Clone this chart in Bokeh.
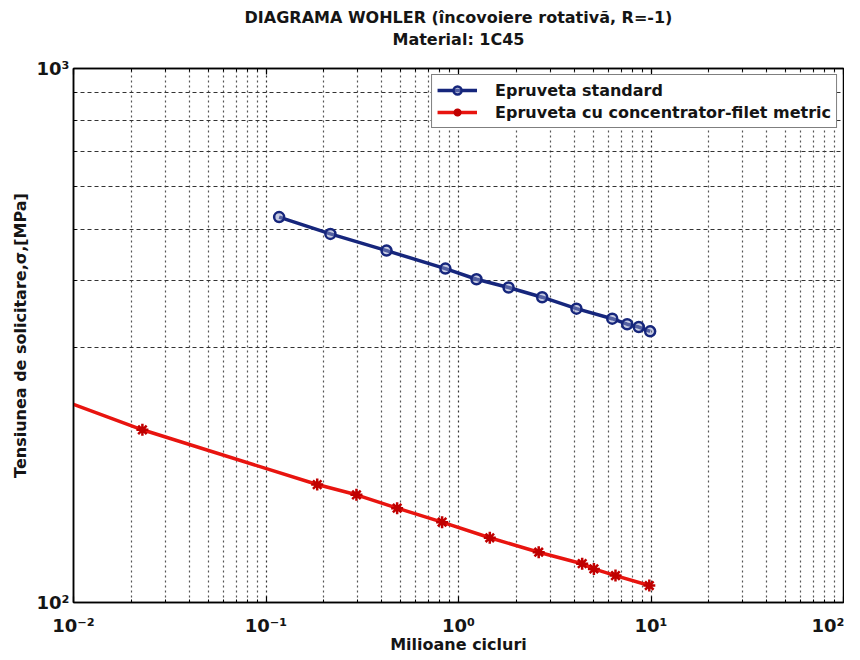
from bokeh.plotting import figure
from bokeh.models import (FixedTicker, CustomJSTickFormatter, Title, Legend, LegendItem,
                          ColumnDataSource, Range1d, LogAxis)
from bokeh.embed import file_html
from bokeh.resources import INLINE

# ---- data ----
std_cycles = [0.117, 0.216, 0.423, 0.855, 1.24, 1.82, 2.72, 4.10, 6.29, 7.52, 8.64, 9.9]
std_stress = [527, 490, 456, 422, 403, 389, 373, 355, 340, 332, 328, 322]

conc_cycles = [0.01, 0.0228, 0.1845, 0.295, 0.48, 0.822, 1.454, 2.61, 4.39, 5.05, 6.54, 9.8]
conc_stress = [235, 210.6, 166.3, 159.1, 150.2, 141.4, 132.2, 124.2, 118.2, 115.6, 112.3, 107.6]

x_ticks = [0.01, 0.1, 1, 10, 100]
x_tick_labels = ["10\u207b\u00b2", "10\u207b\u00b9", "10\u2070", "10\u00b9", "10\u00b2"]
x_minor = [m * d for d in [0.01, 0.1, 1, 10] for m in [2, 3, 4, 5, 6, 7, 8, 9]]
y_ticks = [100, 1000]
y_tick_labels = ["10\u00b2", "10\u00b3"]
y_minor = [300, 400, 500, 600, 700, 800, 900]

title_1 = "DIAGRAMA WOHLER (\u00eencovoiere rotativ\u00e3, R=-1)"
title_2 = "Material: 1C45"
x_label = "Milioane cicluri"
y_label = "Tensiunea de solicitare,\u03c3,[MPa]"
leg_std = "Epruveta standard"
leg_conc = "Epruveta cu concentrator-filet metric"

FONT = "DejaVu Sans"
BLUE = "#16267c"
RED = "#e8140f"
TXT = "#151515"

p = figure(width=844, height=656, x_axis_type="log", y_axis_type="log",
           x_range=Range1d(0.01, 100), y_range=Range1d(100, 1000),
           output_backend="svg", toolbar_location=None,
           min_border_left=73, min_border_right=1, min_border_top=68, min_border_bottom=50)

fmt_code = """
let best = 0, bd = 1e9;
for (let i = 0; i < vals.length; i++) {
  const d = Math.abs(Math.log10(tick) - Math.log10(vals[i]));
  if (d < bd) { bd = d; best = i; }
}
return labs[best];
"""
xax = p.below[0]
yax = p.left[0]
x_ticker = FixedTicker(ticks=x_ticks, minor_ticks=x_minor)
xax.ticker = x_ticker
yax.ticker = FixedTicker(ticks=y_ticks, minor_ticks=y_minor)
xax.formatter = CustomJSTickFormatter(args=dict(vals=x_ticks, labs=x_tick_labels), code=fmt_code)
yax.formatter = CustomJSTickFormatter(args=dict(vals=y_ticks, labs=y_tick_labels), code=fmt_code)

for ax in (xax, yax):
    ax.major_label_text_font = FONT
    ax.major_label_text_font_size = "18px"
    ax.major_label_text_font_style = "bold"
    ax.major_label_text_color = TXT
    ax.axis_label_text_font = FONT
    ax.axis_label_text_font_size = "16px"
    ax.axis_label_text_font_style = "bold"
    ax.axis_label_text_color = TXT
    ax.major_tick_in = 6
    ax.major_tick_out = 0
    ax.minor_tick_in = 3
    ax.minor_tick_out = 0
    ax.axis_line_width = 1.5
    ax.major_tick_line_width = 1.2

xax.axis_label = x_label
yax.axis_label = y_label
xax.major_label_standoff = 12
yax.major_label_standoff = 4
xax.axis_label_standoff = -4
yax.axis_label_standoff = 4

# top box axis: inward ticks, no tick labels; carries the second title line
top_axis = LogAxis(ticker=x_ticker, formatter=CustomJSTickFormatter(code="return ''"),
                   major_tick_in=6, major_tick_out=0, minor_tick_in=3, minor_tick_out=0,
                   axis_line_width=1.5, major_tick_line_width=1.2,
                   axis_label=title_2, axis_label_standoff=20,
                   axis_label_text_font=FONT, axis_label_text_font_size="16px",
                   axis_label_text_font_style="bold", axis_label_text_color=TXT)
p.add_layout(top_axis, "above")

p.add_layout(Title(text=title_1, align="center", text_font=FONT, text_font_size="16px",
                   text_font_style="bold", text_color=TXT, standoff=0), "above")

p.outline_line_color = "black"
p.outline_line_width = 1.5

p.xgrid.grid_line_color = "#333333"
p.xgrid.grid_line_dash = "2 3"
p.xgrid.grid_line_width = 1.2
p.xgrid.minor_grid_line_color = "#555555"
p.xgrid.minor_grid_line_dash = "2 3"
p.xgrid.minor_grid_line_width = 1.2
p.ygrid.grid_line_color = None
p.ygrid.minor_grid_line_color = "#333333"
p.ygrid.minor_grid_line_dash = "4 3"
p.ygrid.minor_grid_line_width = 1.2

s1 = ColumnDataSource(dict(x=std_cycles, y=std_stress))
s2 = ColumnDataSource(dict(x=conc_cycles, y=conc_stress))
s2m = ColumnDataSource(dict(x=conc_cycles[1:], y=conc_stress[1:]))

l1 = p.line("x", "y", source=s1, line_color=BLUE, line_width=3.5)
m1 = p.scatter("x", "y", source=s1, marker="circle", size=10, line_color=BLUE,
               line_width=2.5, fill_color="#8f9ac8", fill_alpha=0.5)
l2 = p.line("x", "y", source=s2, line_color=RED, line_width=3.5)
m2 = p.scatter("x", "y", source=s2m, marker="asterisk", size=12, line_color="#c00000",
               line_width=2.5)

legend = Legend(items=[LegendItem(label=leg_std, renderers=[l1, m1]),
                       LegendItem(label=leg_conc, renderers=[l2, m2])],
                location="top_right")
legend.label_text_font = FONT
legend.label_text_font_size = "16px"
legend.label_text_font_style = "bold"
legend.label_text_color = TXT
legend.border_line_color = "black"
legend.border_line_width = 1.2
legend.glyph_width = 40
legend.glyph_height = 20
legend.label_height = 20
legend.label_standoff = 18
legend.spacing = 2
legend.padding = 5
legend.margin = 6
legend.background_fill_alpha = 1.0
p.add_layout(legend)

open("out.html", "w", encoding="utf-8").write(file_html(p, INLINE))
